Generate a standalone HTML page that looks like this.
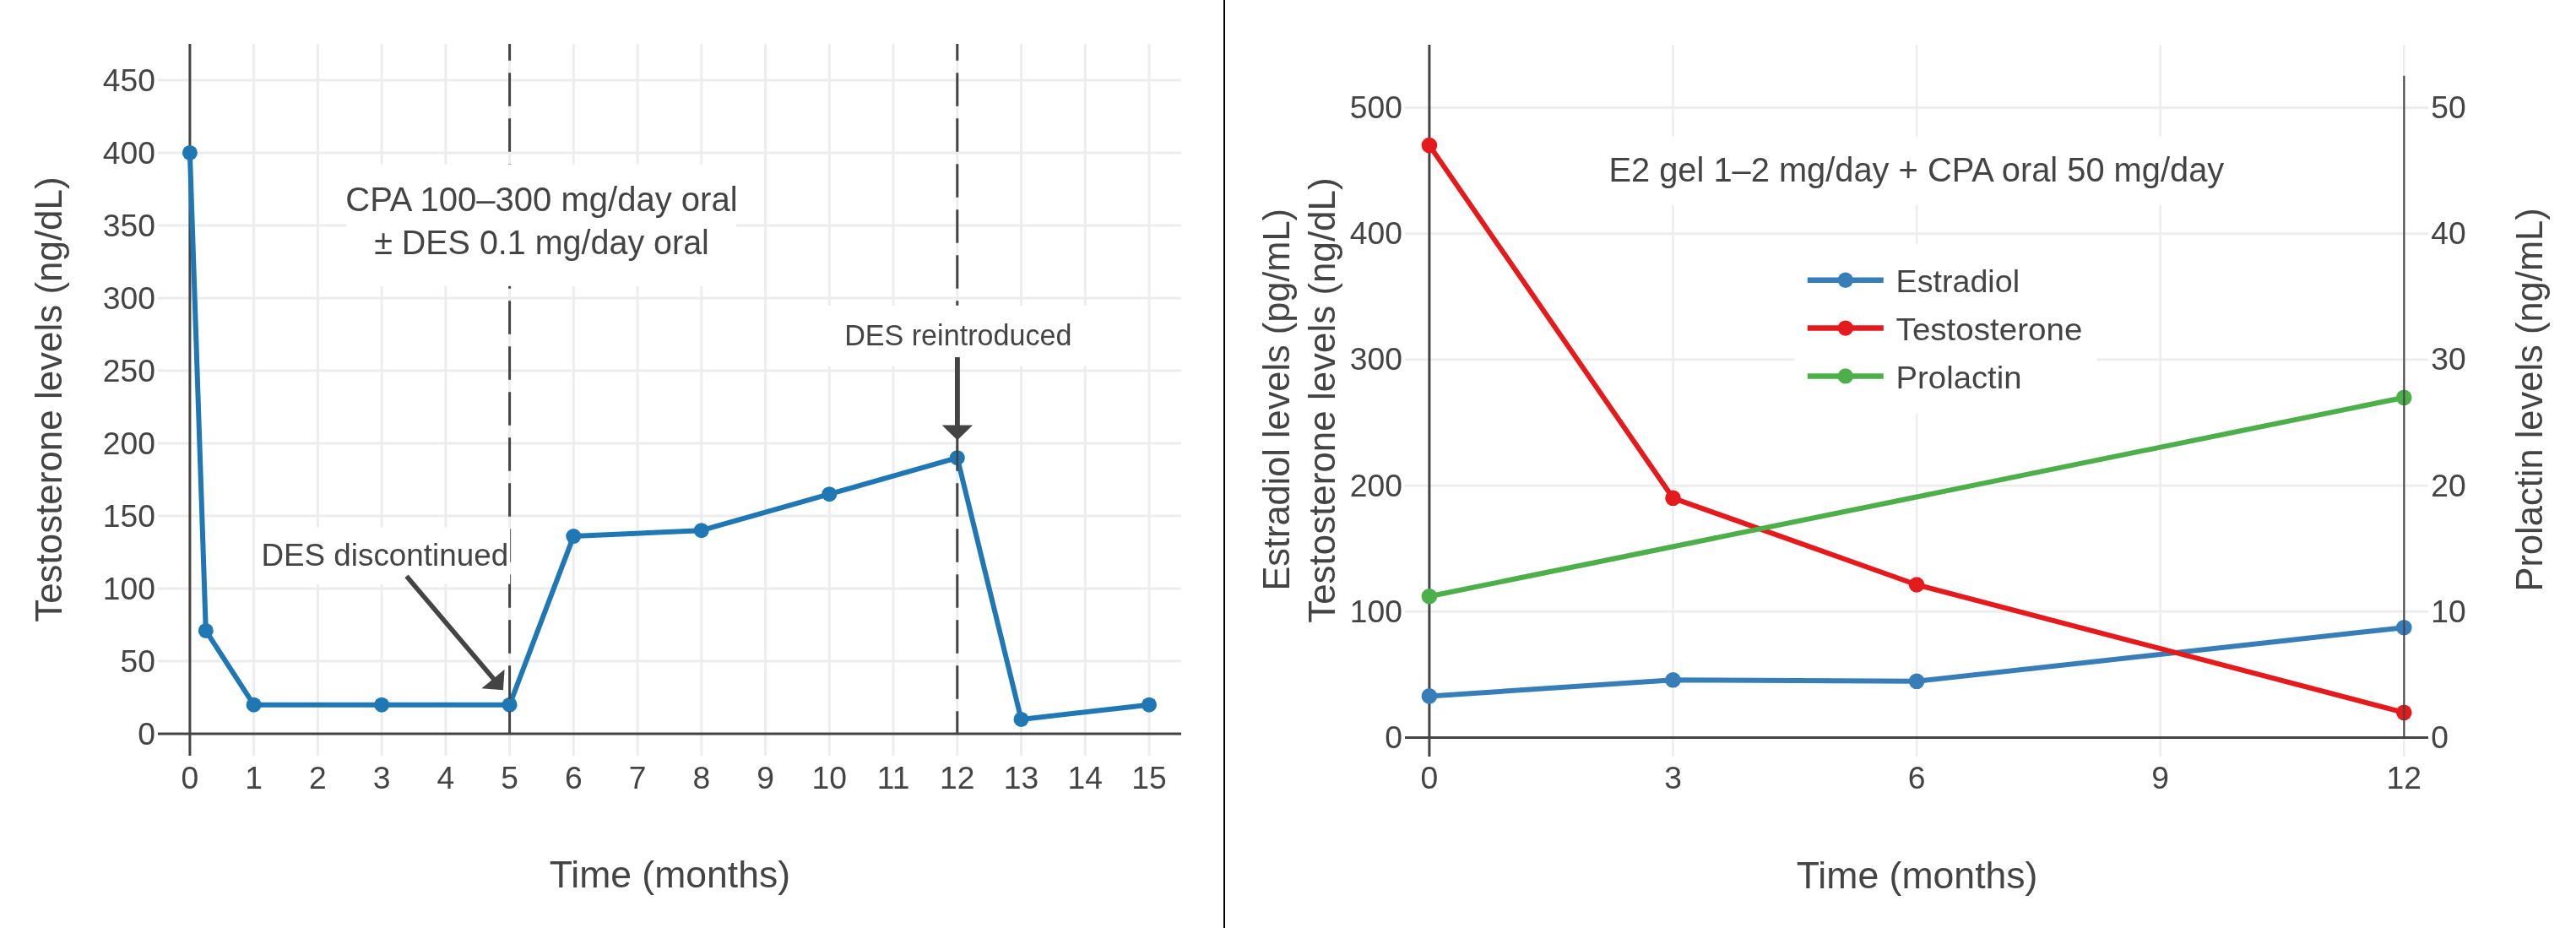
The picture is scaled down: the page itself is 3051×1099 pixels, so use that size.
<!DOCTYPE html>
<html><head><meta charset="utf-8"><title>Hormone levels charts</title>
<style>html,body{margin:0;padding:0;background:#fff;}body{width:3051px;height:1099px;overflow:hidden;font-family:"Liberation Sans",sans-serif;}svg{display:block;will-change:transform;}text{font-family:"Liberation Sans",sans-serif;fill:#444;}</style>
</head><body>
<svg width="3051" height="1099" viewBox="0 0 3051 1099">
<rect x="0" y="0" width="3051" height="1099" fill="#fff"/>
<g id="left">
<line x1="300.6" x2="300.6" y1="52.0" y2="895.0" stroke="#ededed" stroke-width="3"/>
<line x1="376.4" x2="376.4" y1="52.0" y2="895.0" stroke="#ededed" stroke-width="3"/>
<line x1="452.1" x2="452.1" y1="52.0" y2="895.0" stroke="#ededed" stroke-width="3"/>
<line x1="527.9" x2="527.9" y1="52.0" y2="895.0" stroke="#ededed" stroke-width="3"/>
<line x1="603.6" x2="603.6" y1="52.0" y2="895.0" stroke="#ededed" stroke-width="3"/>
<line x1="679.3" x2="679.3" y1="52.0" y2="895.0" stroke="#ededed" stroke-width="3"/>
<line x1="755.1" x2="755.1" y1="52.0" y2="895.0" stroke="#ededed" stroke-width="3"/>
<line x1="830.8" x2="830.8" y1="52.0" y2="895.0" stroke="#ededed" stroke-width="3"/>
<line x1="906.6" x2="906.6" y1="52.0" y2="895.0" stroke="#ededed" stroke-width="3"/>
<line x1="982.3" x2="982.3" y1="52.0" y2="895.0" stroke="#ededed" stroke-width="3"/>
<line x1="1058.0" x2="1058.0" y1="52.0" y2="895.0" stroke="#ededed" stroke-width="3"/>
<line x1="1133.8" x2="1133.8" y1="52.0" y2="895.0" stroke="#ededed" stroke-width="3"/>
<line x1="1209.5" x2="1209.5" y1="52.0" y2="895.0" stroke="#ededed" stroke-width="3"/>
<line x1="1285.3" x2="1285.3" y1="52.0" y2="895.0" stroke="#ededed" stroke-width="3"/>
<line x1="1361.0" x2="1361.0" y1="52.0" y2="895.0" stroke="#ededed" stroke-width="3"/>
<line x1="187.0" x2="1399.0" y1="783.1" y2="783.1" stroke="#ededed" stroke-width="3"/>
<line x1="187.0" x2="1399.0" y1="697.1" y2="697.1" stroke="#ededed" stroke-width="3"/>
<line x1="187.0" x2="1399.0" y1="611.0" y2="611.0" stroke="#ededed" stroke-width="3"/>
<line x1="187.0" x2="1399.0" y1="525.0" y2="525.0" stroke="#ededed" stroke-width="3"/>
<line x1="187.0" x2="1399.0" y1="439.0" y2="439.0" stroke="#ededed" stroke-width="3"/>
<line x1="187.0" x2="1399.0" y1="353.0" y2="353.0" stroke="#ededed" stroke-width="3"/>
<line x1="187.0" x2="1399.0" y1="266.9" y2="266.9" stroke="#ededed" stroke-width="3"/>
<line x1="187.0" x2="1399.0" y1="180.9" y2="180.9" stroke="#ededed" stroke-width="3"/>
<line x1="187.0" x2="1399.0" y1="94.9" y2="94.9" stroke="#ededed" stroke-width="3"/>
<line x1="224.9" x2="224.9" y1="52.0" y2="895.0" stroke="#444" stroke-width="3"/>
<line x1="187.0" x2="1399.0" y1="869.1" y2="869.1" stroke="#444" stroke-width="3"/>
<polyline fill="none" stroke="#1f77b4" stroke-width="6" stroke-linejoin="round" points="224.9,180.9 243.8,746.9 300.6,834.7 452.1,834.7 603.6,834.7 679.3,635.1 830.8,628.2 982.3,585.2 1133.8,542.2 1209.5,851.9 1361.0,834.7"/>
<circle cx="224.9" cy="180.9" r="9" fill="#1f77b4"/>
<circle cx="243.8" cy="746.9" r="9" fill="#1f77b4"/>
<circle cx="300.6" cy="834.7" r="9" fill="#1f77b4"/>
<circle cx="452.1" cy="834.7" r="9" fill="#1f77b4"/>
<circle cx="603.6" cy="834.7" r="9" fill="#1f77b4"/>
<circle cx="679.3" cy="635.1" r="9" fill="#1f77b4"/>
<circle cx="830.8" cy="628.2" r="9" fill="#1f77b4"/>
<circle cx="982.3" cy="585.2" r="9" fill="#1f77b4"/>
<circle cx="1133.8" cy="542.2" r="9" fill="#1f77b4"/>
<circle cx="1209.5" cy="851.9" r="9" fill="#1f77b4"/>
<circle cx="1361.0" cy="834.7" r="9" fill="#1f77b4"/>
<clipPath id="cl"><rect x="187.0" y="52.0" width="1212.0" height="843.0"/></clipPath>
<line clip-path="url(#cl)" x1="603.6" x2="603.6" y1="32.2" y2="869.1" stroke="#444" stroke-width="3" stroke-dasharray="39.5 14.5"/>
<line clip-path="url(#cl)" x1="1133.8" x2="1133.8" y1="32.2" y2="869.1" stroke="#444" stroke-width="3" stroke-dasharray="39.5 14.5"/>
<rect x="410.7" y="194.7" width="461.2" height="144.2" fill="#fff"/>
<text x="409.22" y="249.90" font-size="40.36" textLength="464.35" lengthAdjust="spacingAndGlyphs">CPA 100–300 mg/day oral</text>
<text x="443.18" y="301.00" font-size="40.36" textLength="396.71" lengthAdjust="spacingAndGlyphs">± DES 0.1 mg/day oral</text>
<rect x="301.8" y="624.7" width="302.4" height="66.9" fill="#fff"/>
<text x="309.43" y="670.00" font-size="37.26" textLength="292.70" lengthAdjust="spacingAndGlyphs">DES discontinued</text>
<line x1="481.5" y1="682.4" x2="586" y2="805.6" stroke="#444" stroke-width="5.6"/>
<polygon points="595.9,817.2 597.6,792.8 570.4,815.3" fill="#444"/>
<rect x="980" y="361.8" width="308" height="71.9" fill="#fff"/>
<text x="1000.15" y="408.80" font-size="34.15" textLength="269.28" lengthAdjust="spacingAndGlyphs">DES reintroduced</text>
<line x1="1133.9" y1="423" x2="1133.9" y2="506" stroke="#444" stroke-width="5.9"/>
<polygon points="1133.9,521.2 1115.7,503.6 1152.1,503.6" fill="#444"/>
<text x="163.25" y="881.90" font-size="37.26">0</text>
<text x="142.50" y="795.88" font-size="37.26">50</text>
<text x="121.75" y="709.85" font-size="37.26">100</text>
<text x="121.75" y="623.83" font-size="37.26">150</text>
<text x="121.75" y="537.80" font-size="37.26">200</text>
<text x="121.75" y="451.78" font-size="37.26">250</text>
<text x="121.75" y="365.75" font-size="37.26">300</text>
<text x="121.75" y="279.73" font-size="37.26">350</text>
<text x="121.75" y="193.70" font-size="37.26">400</text>
<text x="121.75" y="107.68" font-size="37.26">450</text>
<text x="224.90" y="933.70" font-size="37.26" text-anchor="middle">0</text>
<text x="300.64" y="933.70" font-size="37.26" text-anchor="middle">1</text>
<text x="376.38" y="933.70" font-size="37.26" text-anchor="middle">2</text>
<text x="452.12" y="933.70" font-size="37.26" text-anchor="middle">3</text>
<text x="527.86" y="933.70" font-size="37.26" text-anchor="middle">4</text>
<text x="603.60" y="933.70" font-size="37.26" text-anchor="middle">5</text>
<text x="679.34" y="933.70" font-size="37.26" text-anchor="middle">6</text>
<text x="755.08" y="933.70" font-size="37.26" text-anchor="middle">7</text>
<text x="830.82" y="933.70" font-size="37.26" text-anchor="middle">8</text>
<text x="906.56" y="933.70" font-size="37.26" text-anchor="middle">9</text>
<text x="982.30" y="933.70" font-size="37.26" text-anchor="middle">10</text>
<text x="1058.04" y="933.70" font-size="37.26" text-anchor="middle">11</text>
<text x="1133.78" y="933.70" font-size="37.26" text-anchor="middle">12</text>
<text x="1209.52" y="933.70" font-size="37.26" text-anchor="middle">13</text>
<text x="1285.26" y="933.70" font-size="37.26" text-anchor="middle">14</text>
<text x="1361.00" y="933.70" font-size="37.26" text-anchor="middle">15</text>
<text x="650.78" y="1050.90" font-size="43.47" textLength="285.20" lengthAdjust="spacingAndGlyphs">Time (months)</text>
<text transform="translate(72.80,736.81) rotate(-90)" font-size="43.47" textLength="527.39" lengthAdjust="spacingAndGlyphs">Testosterone levels (ng/dL)</text>
</g>
<rect x="1449" y="0" width="2" height="1099" fill="#000"/>
<g id="right">
<line x1="1981.5" x2="1981.5" y1="53.0" y2="896.0" stroke="#ededed" stroke-width="2.5"/>
<line x1="2270.1" x2="2270.1" y1="53.0" y2="896.0" stroke="#ededed" stroke-width="2.5"/>
<line x1="2558.7" x2="2558.7" y1="53.0" y2="896.0" stroke="#ededed" stroke-width="2.5"/>
<line x1="2847.3" x2="2847.3" y1="53.0" y2="896.0" stroke="#ededed" stroke-width="2.5"/>
<line x1="1664.0" x2="2876.0" y1="724.3" y2="724.3" stroke="#ededed" stroke-width="2.9"/>
<line x1="1664.0" x2="2876.0" y1="575.1" y2="575.1" stroke="#ededed" stroke-width="2.9"/>
<line x1="1664.0" x2="2876.0" y1="425.9" y2="425.9" stroke="#ededed" stroke-width="2.9"/>
<line x1="1664.0" x2="2876.0" y1="276.7" y2="276.7" stroke="#ededed" stroke-width="2.9"/>
<line x1="1664.0" x2="2876.0" y1="127.5" y2="127.5" stroke="#ededed" stroke-width="2.9"/>
<line x1="1692.9" x2="1692.9" y1="53.0" y2="896.0" stroke="#444" stroke-width="3"/>
<line x1="1664.0" x2="2876.0" y1="873.6" y2="873.6" stroke="#444" stroke-width="3"/>
<polyline fill="none" stroke="#377eb8" stroke-width="6.0" stroke-linejoin="round" points="1692.9,824.4 1981.5,805.3 2270.1,806.8 2847.3,743.2"/>
<circle cx="1692.9" cy="824.4" r="9.3" fill="#377eb8"/>
<circle cx="1981.5" cy="805.3" r="9.3" fill="#377eb8"/>
<circle cx="2270.1" cy="806.8" r="9.3" fill="#377eb8"/>
<circle cx="2847.3" cy="743.2" r="9.3" fill="#377eb8"/>
<polyline fill="none" stroke="#e41a1c" stroke-width="6.0" stroke-linejoin="round" points="1692.9,172.1 1981.5,589.8 2270.1,692.5 2847.3,843.8"/>
<circle cx="1692.9" cy="172.1" r="9.3" fill="#e41a1c"/>
<circle cx="1981.5" cy="589.8" r="9.3" fill="#e41a1c"/>
<circle cx="2270.1" cy="692.5" r="9.3" fill="#e41a1c"/>
<circle cx="2847.3" cy="843.8" r="9.3" fill="#e41a1c"/>
<polyline fill="none" stroke="#4daf4a" stroke-width="6.0" stroke-linejoin="round" points="1692.9,706.2 2847.3,470.8"/>
<circle cx="1692.9" cy="706.2" r="9.3" fill="#4daf4a"/>
<circle cx="2847.3" cy="470.8" r="9.3" fill="#4daf4a"/>
<line x1="2847.35" x2="2847.35" y1="89.7" y2="873.6" stroke="#444" stroke-width="2.1"/>
<rect x="1901" y="161.7" width="740" height="80.7" fill="#fff"/>
<text x="1905.39" y="214.80" font-size="40.36" textLength="728.85" lengthAdjust="spacingAndGlyphs">E2 gel 1–2 mg/day + CPA oral 50 mg/day</text>
<rect x="2125.6" y="289" width="357.7" height="201.2" fill="#fff"/>
<line x1="2140.8" x2="2230.8" y1="331.7" y2="331.7" stroke="#377eb8" stroke-width="6.5"/>
<circle cx="2185.8" cy="331.7" r="9.2" fill="#377eb8"/>
<text x="2245.59" y="345.60" font-size="37.47" textLength="146.46" lengthAdjust="spacingAndGlyphs">Estradiol</text>
<line x1="2140.8" x2="2230.8" y1="388.6" y2="388.6" stroke="#e41a1c" stroke-width="6.5"/>
<circle cx="2185.8" cy="388.6" r="9.2" fill="#e41a1c"/>
<text x="2245.63" y="402.80" font-size="37.47" textLength="220.70" lengthAdjust="spacingAndGlyphs">Testosterone</text>
<line x1="2140.8" x2="2230.8" y1="445.4" y2="445.4" stroke="#4daf4a" stroke-width="6.5"/>
<circle cx="2185.8" cy="445.4" r="9.2" fill="#4daf4a"/>
<text x="2245.53" y="459.70" font-size="37.47" textLength="149.06" lengthAdjust="spacingAndGlyphs">Prolactin</text>
<text x="1640.25" y="885.90" font-size="37.26">0</text>
<text x="2879.20" y="885.90" font-size="37.26">0</text>
<text x="1598.75" y="736.70" font-size="37.26">100</text>
<text x="2879.20" y="736.70" font-size="37.26">10</text>
<text x="1598.75" y="587.50" font-size="37.26">200</text>
<text x="2879.20" y="587.50" font-size="37.26">20</text>
<text x="1598.75" y="438.30" font-size="37.26">300</text>
<text x="2879.20" y="438.30" font-size="37.26">30</text>
<text x="1598.75" y="289.10" font-size="37.26">400</text>
<text x="2879.20" y="289.10" font-size="37.26">40</text>
<text x="1598.75" y="139.90" font-size="37.26">500</text>
<text x="2879.20" y="139.90" font-size="37.26">50</text>
<text x="1692.90" y="934.40" font-size="37.26" text-anchor="middle">0</text>
<text x="1981.50" y="934.40" font-size="37.26" text-anchor="middle">3</text>
<text x="2270.10" y="934.40" font-size="37.26" text-anchor="middle">6</text>
<text x="2558.70" y="934.40" font-size="37.26" text-anchor="middle">9</text>
<text x="2847.30" y="934.40" font-size="37.26" text-anchor="middle">12</text>
<text x="2127.77" y="1051.90" font-size="43.47" textLength="285.71" lengthAdjust="spacingAndGlyphs">Time (months)</text>
<text transform="translate(1526.80,699.59) rotate(-90)" font-size="43.47" textLength="452.57" lengthAdjust="spacingAndGlyphs">Estradiol levels (pg/mL)</text>
<text transform="translate(1580.90,737.81) rotate(-90)" font-size="43.47" textLength="527.39" lengthAdjust="spacingAndGlyphs">Testosterone levels (ng/dL)</text>
<text transform="translate(3010.90,700.60) rotate(-90)" font-size="43.47" textLength="454.39" lengthAdjust="spacingAndGlyphs">Prolactin levels (ng/mL)</text>
</g>
</svg></body></html>
